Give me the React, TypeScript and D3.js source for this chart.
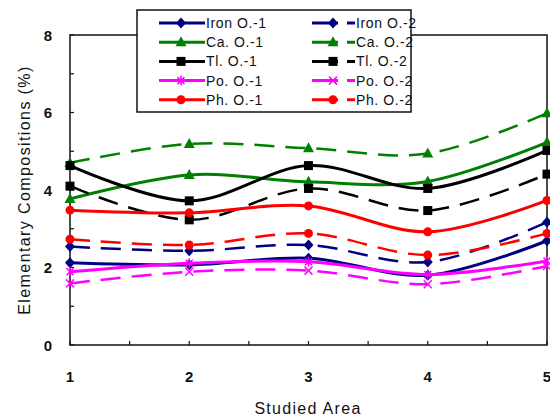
import React from "react";
import * as d3 from "d3";

const areas = [1, 2, 3, 4, 5];
const ironO1 = [2.12, 2.07, 2.24, 1.8, 2.69];
const ironO2 = [2.54, 2.43, 2.58, 2.14, 3.17];
const caO1 = [3.77, 4.39, 4.21, 4.22, 5.23];
const caO2 = [4.7, 5.19, 5.08, 4.94, 5.98];
const tlO1 = [4.63, 3.72, 4.63, 4.04, 5.02];
const tlO2 = [4.1, 3.23, 4.04, 3.47, 4.41];
const poO1 = [1.89, 2.11, 2.15, 1.82, 2.17];
const poO2 = [1.59, 1.89, 1.92, 1.57, 2.04];
const phO1 = [3.48, 3.41, 3.59, 2.92, 3.73];
const phO2 = [2.73, 2.58, 2.88, 2.32, 2.88];

const yTicks = [0, 2, 4, 6, 8];
const xTicks = [1, 2, 3, 4, 5];

type Marker = "diamond" | "triangle" | "square" | "star" | "x" | "circle";
const series: { name: string; values: number[]; color: string; dashed: boolean; marker: Marker }[] = [
  { name: "Iron O.-1", values: ironO1, color: "#000080", dashed: false, marker: "diamond" },
  { name: "Iron O.-2", values: ironO2, color: "#000080", dashed: true, marker: "diamond" },
  { name: "Ca. O.-1", values: caO1, color: "#008000", dashed: false, marker: "triangle" },
  { name: "Ca. O.-2", values: caO2, color: "#008000", dashed: true, marker: "triangle" },
  { name: "Tl. O.-1", values: tlO1, color: "#000000", dashed: false, marker: "square" },
  { name: "Tl. O.-2", values: tlO2, color: "#000000", dashed: true, marker: "square" },
  { name: "Po. O.-1", values: poO1, color: "#FF00FF", dashed: false, marker: "star" },
  { name: "Po. O.-2", values: poO2, color: "#FF00FF", dashed: true, marker: "x" },
  { name: "Ph. O.-1", values: phO1, color: "#FF0000", dashed: false, marker: "circle" },
  { name: "Ph. O.-2", values: phO2, color: "#FF0000", dashed: true, marker: "circle" },
];

const FONT = "'Liberation Sans', Arial, sans-serif";

function MarkerShape({ type, x, y, color }: { type: Marker; x: number; y: number; color: string }) {
  switch (type) {
    case "diamond":
      return <path d={`M${x},${y - 5.5}L${x + 5},${y}L${x},${y + 5.5}L${x - 5},${y}Z`} fill={color} />;
    case "triangle":
      return <path d={`M${x},${y - 6}L${x + 5.5},${y + 4}L${x - 5.5},${y + 4}Z`} fill={color} />;
    case "square":
      return <rect x={x - 4.5} y={y - 4.5} width={9} height={9} fill={color} />;
    case "circle":
      return <circle cx={x} cy={y} r={4.5} fill={color} />;
    case "star":
      return (
        <g stroke={color} strokeWidth={1.5}>
          <line x1={x - 3.5} y1={y - 3.5} x2={x + 3.5} y2={y + 3.5} />
          <line x1={x - 3.5} y1={y + 3.5} x2={x + 3.5} y2={y - 3.5} />
          <line x1={x} y1={y - 5} x2={x} y2={y + 5} />
        </g>
      );
    case "x":
      return (
        <g stroke={color} strokeWidth={1.5}>
          <line x1={x - 4} y1={y - 4} x2={x + 4} y2={y + 4} />
          <line x1={x - 4} y1={y + 4} x2={x + 4} y2={y - 4} />
        </g>
      );
  }
  return null;
}

export default function App() {
  const left = 70, right = 547, top = 35, bottom = 345;
  const x = d3.scaleLinear().domain([1, 5]).range([left, right]);
  const y = d3.scaleLinear().domain([0, 8]).range([bottom, top]);
  const line = d3
    .line<number>()
    .x((_, i) => x(areas[i]))
    .y((d) => y(d))
    .curve(d3.curveCardinal.tension(0));

  const yMinor = d3.range(0, 8.01, 1);
  const xMinor = d3.range(1, 5.01, 0.5);

  const legX = 137, legY = 10, legW = 274, legH = 102;
  const rowY = (i: number) => 23 + i * 19.2;

  return (
    <svg width={550} height={419} style={{ position: "absolute", left: 0, top: 0, background: "#fff" }}>
      <rect x={0} y={0} width={550} height={419} fill="#fff" />
      {/* plot frame */}
      <rect x={left} y={top} width={right - left} height={bottom - top} fill="none" stroke="#111" strokeWidth={1.5} />
      {yMinor.map((v) => (
        <line key={"yt" + v} x1={left} x2={left + 4} y1={y(v)} y2={y(v)} stroke="#111" strokeWidth={1.2} />
      ))}
      {xMinor.map((v) => (
        <line key={"xt" + v} x1={x(v)} x2={x(v)} y1={bottom} y2={bottom - 4} stroke="#111" strokeWidth={1.2} />
      ))}
      {yTicks.map((v) => (
        <text key={"yl" + v} x={48} y={y(v)} textAnchor="middle" dominantBaseline="central" fontFamily={FONT} fontWeight="bold" fontSize={15} fill="#111">
          {v}
        </text>
      ))}
      {xTicks.map((v) => (
        <text key={"xl" + v} x={x(v)} y={376} textAnchor="middle" dominantBaseline="central" fontFamily={FONT} fontWeight="bold" fontSize={15} fill="#111">
          {v}
        </text>
      ))}
      <text x={308} y={408} textAnchor="middle" dominantBaseline="central" fontFamily={FONT} fontSize={16} letterSpacing={1.3} fill="#111">
        Studied Area
      </text>
      <text
        transform={`translate(24,${(top + bottom) / 2}) rotate(-90)`}
        textAnchor="middle"
        dominantBaseline="central"
        fontFamily={FONT}
        fontSize={16}
        letterSpacing={1.4}
        fill="#111"
      >
        Elementary Compositions (%)
      </text>

      {/* series */}
      {series.map((s) => (
        <g key={s.name}>
          <path
            d={line(s.values) || ""}
            fill="none"
            stroke={s.color}
            strokeWidth={s.dashed ? 2.5 : 3}
            strokeDasharray={s.dashed ? "20,11" : undefined}
          />
          {s.values.map((v, i) => (
            <MarkerShape key={i} type={s.marker} x={x(areas[i])} y={y(v)} color={s.color} />
          ))}
        </g>
      ))}

      {/* legend */}
      <rect x={legX} y={legY} width={legW} height={legH} fill="#fff" stroke="#111" strokeWidth={1.5} />
      {series.map((s, i) => {
        const col = i % 2;
        const row = Math.floor(i / 2);
        const ly = rowY(row);
        const x1 = col === 0 ? 159 : 312;
        const x2 = col === 0 ? 205 : 355;
        const mx = col === 0 ? 181 : 333;
        return (
          <g key={"leg" + s.name}>
            <line
              x1={x1}
              x2={x2}
              y1={ly}
              y2={ly}
              stroke={s.color}
              strokeWidth={3}
              strokeDasharray={s.dashed ? "26,9" : undefined}
            />
            <MarkerShape type={s.marker} x={mx} y={ly} color={s.color} />
            <text x={x2 + 1} y={ly} dominantBaseline="central" fontFamily={FONT} fontSize={14} letterSpacing={0.6} fill="#111">
              {s.name}
            </text>
          </g>
        );
      })}
    </svg>
  );
}
